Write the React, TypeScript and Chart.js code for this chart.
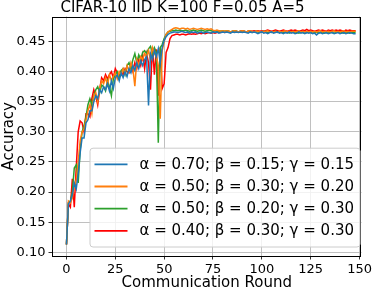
import { useEffect, useRef } from "react";
import { Chart, registerables } from "chart.js";

Chart.register(...registerables);

const TITLE = "CIFAR-10 IID K=100 F=0.05 A=5";
const X_LABEL = "Communication Round";
const Y_LABEL = "Accuracy";
const X_TICKS = [0, 25, 50, 75, 100, 125, 150];
const Y_TICKS = [0.1, 0.15, 0.2, 0.25, 0.3, 0.35, 0.4, 0.45];

const LABELS = [
  "α = 0.70; β = 0.15; γ = 0.15",
  "α = 0.50; β = 0.30; γ = 0.20",
  "α = 0.50; β = 0.20; γ = 0.30",
  "α = 0.40; β = 0.30; γ = 0.30",
];
const COLORS = ["#1f77b4", "#ff7f0e", "#2ca02c", "#ff0000"];

const BLUE = [
  0.113, 0.180, 0.185, 0.195, 0.215, 0.205, 0.230, 0.265, 0.290, 0.290, 0.315, 0.320, 0.335, 0.335, 0.350, 0.360, 0.355, 0.370, 0.365, 0.375,
  0.370, 0.380, 0.368, 0.385, 0.372, 0.390, 0.395, 0.385, 0.398, 0.390, 0.400, 0.392, 0.405, 0.398, 0.410, 0.402, 0.415, 0.405, 0.418, 0.410,
  0.420, 0.425, 0.344, 0.430, 0.420, 0.435, 0.425, 0.438, 0.415, 0.440, 0.452, 0.458, 0.462, 0.464, 0.465, 0.466, 0.466, 0.465, 0.466, 0.467,
  0.466, 0.465, 0.466, 0.464, 0.466, 0.465, 0.466, 0.464, 0.465, 0.466,
  0.464, 0.465, 0.466, 0.465, 0.464, 0.466, 0.465, 0.466, 0.464, 0.465,
  0.466, 0.465, 0.466, 0.465, 0.464, 0.466, 0.465, 0.466, 0.465, 0.466,
  0.465, 0.466, 0.465, 0.464, 0.466, 0.465, 0.466, 0.465, 0.463, 0.465,
  0.466, 0.464, 0.465, 0.463, 0.465, 0.466, 0.464, 0.465, 0.466, 0.464,
  0.465, 0.463, 0.465, 0.464, 0.466, 0.464, 0.465, 0.463, 0.464, 0.466,
  0.464, 0.465, 0.463, 0.465, 0.464, 0.465, 0.463, 0.464, 0.461, 0.464,
  0.465, 0.463, 0.464, 0.465, 0.463, 0.464, 0.465, 0.463, 0.464, 0.465,
  0.463, 0.464, 0.465, 0.463, 0.464, 0.465, 0.464, 0.463, 0.463,
];

const ORANGE = [
  0.113, 0.185, 0.182, 0.190, 0.210, 0.220, 0.250, 0.285, 0.300, 0.305, 0.320, 0.335, 0.345, 0.330, 0.360, 0.365, 0.350, 0.372, 0.385, 0.380,
  0.390, 0.378, 0.395, 0.385, 0.392, 0.398, 0.388, 0.400, 0.395, 0.405, 0.398, 0.410, 0.400, 0.415, 0.405, 0.376, 0.420, 0.410, 0.425, 0.420,
  0.430, 0.425, 0.435, 0.420, 0.440, 0.430, 0.425, 0.410, 0.322, 0.435, 0.450, 0.462, 0.466, 0.468, 0.470, 0.472, 0.473, 0.472, 0.471, 0.472,
  0.472, 0.471, 0.472, 0.470, 0.471, 0.472, 0.471, 0.470, 0.471, 0.472,
  0.471, 0.470, 0.471, 0.470, 0.471, 0.469, 0.468, 0.469, 0.468, 0.467,
  0.468, 0.467, 0.468, 0.467, 0.466, 0.467, 0.468, 0.467, 0.466, 0.467,
  0.468, 0.467, 0.466, 0.467, 0.468, 0.467, 0.466, 0.467, 0.467, 0.466,
  0.467, 0.466, 0.467, 0.468, 0.466, 0.467, 0.466, 0.467, 0.466, 0.467,
  0.466, 0.467, 0.468, 0.466, 0.467, 0.466, 0.467, 0.466, 0.467, 0.468,
  0.466, 0.467, 0.466, 0.467, 0.466, 0.467, 0.466, 0.467, 0.466, 0.467,
  0.468, 0.466, 0.467, 0.466, 0.467, 0.466, 0.467, 0.468, 0.466, 0.467,
  0.466, 0.467, 0.468, 0.466, 0.467, 0.466, 0.467, 0.467, 0.467,
];

const GREEN = [
  0.113, 0.182, 0.185, 0.200, 0.240, 0.245, 0.215, 0.270, 0.300, 0.310, 0.325, 0.345, 0.355, 0.345, 0.360, 0.370, 0.375, 0.365, 0.378, 0.375,
  0.368, 0.385, 0.375, 0.360, 0.388, 0.395, 0.400, 0.390, 0.402, 0.405, 0.395, 0.410, 0.415, 0.405, 0.420, 0.430, 0.415, 0.428, 0.420, 0.432,
  0.435, 0.430, 0.438, 0.442, 0.430, 0.440, 0.432, 0.282, 0.440, 0.445, 0.455, 0.462, 0.466, 0.467, 0.468, 0.468, 0.469, 0.468, 0.469, 0.468,
  0.468, 0.469, 0.468, 0.467, 0.468, 0.469, 0.468, 0.467, 0.468, 0.469,
  0.468, 0.467, 0.468, 0.469, 0.468, 0.467, 0.468, 0.467, 0.468, 0.467,
  0.468, 0.467, 0.468, 0.467, 0.466, 0.467, 0.468, 0.467, 0.466, 0.467,
  0.466, 0.467, 0.466, 0.467, 0.466, 0.465, 0.466, 0.467, 0.466, 0.465,
  0.466, 0.467, 0.466, 0.465, 0.466, 0.465, 0.466, 0.467, 0.465, 0.466,
  0.465, 0.466, 0.465, 0.466, 0.464, 0.466, 0.465, 0.466, 0.465, 0.464,
  0.466, 0.465, 0.464, 0.465, 0.466, 0.465, 0.464, 0.465, 0.466, 0.464,
  0.465, 0.466, 0.464, 0.465, 0.464, 0.466, 0.465, 0.464, 0.465, 0.466,
  0.464, 0.465, 0.464, 0.466, 0.465, 0.464, 0.465, 0.466, 0.465,
];

const RED = [
  0.113, 0.180, 0.175, 0.222, 0.175, 0.240, 0.300, 0.318, 0.315, 0.300, 0.330, 0.330, 0.325, 0.355, 0.370, 0.360, 0.345, 0.370, 0.390, 0.385,
  0.395, 0.388, 0.395, 0.400, 0.390, 0.405, 0.398, 0.392, 0.400, 0.395, 0.405, 0.400, 0.398, 0.410, 0.400, 0.415, 0.405, 0.420, 0.410, 0.428,
  0.405, 0.430, 0.415, 0.370, 0.440, 0.395, 0.437, 0.360, 0.440, 0.372, 0.380, 0.432, 0.440, 0.455, 0.460, 0.461, 0.462, 0.462, 0.461, 0.462,
  0.462, 0.461, 0.462, 0.463, 0.462, 0.463, 0.462, 0.463, 0.464, 0.463,
  0.464, 0.463, 0.464, 0.465, 0.464, 0.465, 0.464, 0.465, 0.466, 0.465,
  0.466, 0.465, 0.466, 0.467, 0.466, 0.467, 0.466, 0.467, 0.466, 0.467,
  0.468, 0.467, 0.466, 0.467, 0.468, 0.467, 0.468, 0.467, 0.468, 0.467,
  0.468, 0.467, 0.468, 0.469, 0.468, 0.467, 0.468, 0.469, 0.468, 0.467,
  0.468, 0.469, 0.468, 0.467, 0.468, 0.469, 0.468, 0.469, 0.468, 0.467,
  0.468, 0.469, 0.468, 0.470, 0.468, 0.469, 0.468, 0.467, 0.468, 0.469,
  0.468, 0.469, 0.468, 0.467, 0.469, 0.468, 0.469, 0.468, 0.469, 0.468,
  0.469, 0.468, 0.467, 0.469, 0.468, 0.469, 0.468, 0.468, 0.468,
];

const SERIES = [BLUE, ORANGE, GREEN, RED];

const FONT = '"DejaVu Sans", sans-serif';

const frameAndLegend = {
  id: "frameAndLegend",
  afterDatasetsDraw(chart: any) {
    const { ctx, chartArea: ca } = chart;
    ctx.save();
    // axes frame
    ctx.strokeStyle = "#000";
    ctx.lineWidth = 1;
    ctx.strokeRect(Math.round(ca.left) + 0.5, Math.round(ca.top) + 0.5, Math.round(ca.right - ca.left) - 1, Math.round(ca.bottom - ca.top) - 1);

    // legend
    const datasets = chart.data.datasets;
    ctx.font = `15px ${FONT}`;
    const rowH = 22.2;
    const handle = 33;
    const gap = 12;
    const padL = 4.5;
    const padR = 6;
    const padV = 5;
    const textW = Math.max(...datasets.map((d: any) => ctx.measureText(d.label).width));
    const w = padL + handle + gap + textW + padR;
    const h = padV * 2 + rowH * datasets.length;
    const x0 = ca.right - 1.5 - w;
    const y0 = ca.bottom - 9 - h;
    ctx.beginPath();
    ctx.roundRect(x0, y0, w, h, 3);
    ctx.fillStyle = "rgba(255,255,255,0.8)";
    ctx.fill();
    ctx.strokeStyle = "#cccccc";
    ctx.lineWidth = 1;
    ctx.stroke();
    datasets.forEach((d: any, i: number) => {
      const cy = y0 + padV + rowH * (i + 0.5);
      ctx.beginPath();
      ctx.strokeStyle = d.borderColor;
      ctx.lineWidth = 1.8;
      ctx.moveTo(x0 + padL, cy);
      ctx.lineTo(x0 + padL + handle, cy);
      ctx.stroke();
      ctx.fillStyle = "#000";
      ctx.textBaseline = "middle";
      ctx.textAlign = "left";
      ctx.fillText(d.label, x0 + padL + handle + gap, cy + 0.5);
    });
    ctx.restore();
  },
};

export default function App() {
  const ref = useRef<HTMLCanvasElement | null>(null);
  useEffect(() => {
    document.body.style.margin = "0";
    const canvas = ref.current;
    if (!canvas) return;
    const chart = new Chart(canvas, {
      type: "line",
      data: {
        datasets: SERIES.map((s, i) => ({
          label: LABELS[i],
          data: s.map((v, r) => ({ x: r, y: v })),
          borderColor: COLORS[i],
          backgroundColor: COLORS[i],
          borderWidth: 1.5,
          pointRadius: 0,
          tension: 0,
        })),
      },
      options: {
        animation: false,
        responsive: false,
        devicePixelRatio: 1,
        events: [],
        layout: { padding: { left: 0, right: 9, top: 0, bottom: 0 } },
        plugins: {
          legend: { display: false },
          tooltip: { enabled: false },
          title: {
            display: true,
            text: TITLE,
            color: "#000",
            font: { family: FONT, size: 15, weight: "normal", lineHeight: 1.1 },
            padding: { top: 0, bottom: 0 },
          },
        },
        scales: {
          x: {
            type: "linear",
            min: -7.4,
            max: 151,
            afterBuildTicks: (s: any) => {
              s.ticks = X_TICKS.map((value) => ({ value }));
            },
            afterFit: (s: any) => {
              s.height = 36;
            },
            ticks: {
              color: "#000",
              font: { family: FONT, size: 13 },
              padding: 2,
              maxRotation: 0,
              autoSkip: false,
            },
            grid: { color: "#b0b0b0", lineWidth: 0.8, tickLength: 3.5, tickColor: "#000", drawTicks: true },
            border: { display: false },
            title: {
              display: true,
              text: X_LABEL,
              color: "#000",
              font: { family: FONT, size: 15 },
              padding: 0,
            },
          },
          y: {
            type: "linear",
            min: 0.0938,
            max: 0.4916,
            afterBuildTicks: (s: any) => {
              s.ticks = Y_TICKS.map((value) => ({ value }));
            },
            afterFit: (s: any) => {
              s.width = 52;
            },
            ticks: {
              color: "#000",
              font: { family: FONT, size: 13 },
              padding: 3,
              callback: (v: any) => Number(v).toFixed(2),
            },
            grid: { color: "#b0b0b0", lineWidth: 0.8, tickLength: 3.5, tickColor: "#000", drawTicks: true },
            border: { display: false },
            title: {
              display: true,
              text: Y_LABEL,
              color: "#000",
              font: { family: FONT, size: 15 },
              padding: 0,
            },
          },
        },
      },
      plugins: [frameAndLegend],
    } as any);
    return () => chart.destroy();
  }, []);
  return (
    <div style={{ position: "absolute", left: 0, top: 0, width: 374, height: 292, background: "#fff" }}>
      <canvas ref={ref} width={374} height={292} style={{ width: 374, height: 292, display: "block" }} />
    </div>
  );
}
